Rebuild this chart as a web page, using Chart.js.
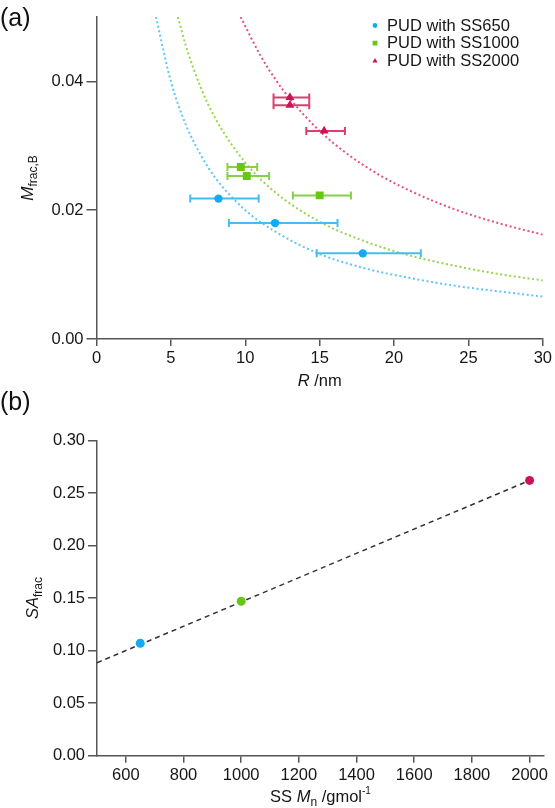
<!DOCTYPE html>
<html><head><meta charset="utf-8">
<script src="https://cdn.jsdelivr.net/npm/chart.js@4.4.1/dist/chart.umd.min.js"></script>
<style>
html,body{margin:0;padding:0;background:#fff;width:555px;height:808px;overflow:hidden}
#a{position:absolute;left:0;top:0;width:555px;height:400px}
#b{position:absolute;left:0;top:380px;width:555px;height:428px}
</style></head><body>
<div id="a"><canvas id="ca"></canvas></div>
<div id="b"><canvas id="cb"></canvas></div>
<script>
// ---------- data: panel (a) ----------
const seriesNames = ['PUD with SS650', 'PUD with SS1000', 'PUD with SS2000'];

const r650   = [8.2, 12.0, 17.9];
const m650   = [0.0218, 0.0180, 0.0133];
const r650Lo = [6.3, 8.9, 14.8];
const r650Hi = [10.9, 16.2, 21.8];

const r1000   = [9.7, 10.1, 15.0];
const m1000   = [0.0267, 0.0253, 0.0223];
const r1000Lo = [8.8, 8.8, 13.2];
const r1000Hi = [10.8, 11.6, 17.1];

const r2000   = [13.0, 13.0, 15.3];
const m2000   = [0.0375, 0.0363, 0.0323];
const r2000Lo = [11.9, 11.9, 14.1];
const r2000Hi = [14.3, 14.3, 16.7];

// fitted curves
const fit650R  = [4.0, 5, 6, 7, 8, 10, 12, 15, 18, 21, 24, 27, 30];
const fit650M  = [0.0500, 0.0400, 0.0333, 0.0286, 0.0250, 0.0200, 0.0167, 0.0132, 0.0110, 0.0095, 0.0083, 0.0074, 0.0066];
const fit1000R = [5.47, 6, 7, 8, 10, 12, 15, 18, 21, 24, 27, 30];
const fit1000M = [0.0500, 0.0456, 0.0391, 0.0342, 0.0274, 0.0228, 0.0182, 0.0152, 0.0130, 0.0114, 0.0101, 0.0091];
const fit2000R = [9.69, 11, 12, 13, 15, 17, 19, 21, 24, 27, 30];
const fit2000M = [0.0500, 0.0441, 0.0404, 0.0373, 0.0323, 0.0285, 0.0255, 0.0231, 0.0202, 0.0180, 0.0162];

const xTicksA = [0, 5, 10, 15, 20, 25, 30];
const yTicksA = [0.00, 0.02, 0.04];

// ---------- data: panel (b) ----------
const ssMn   = [650, 1000, 2000];
const saFrac = [0.107, 0.147, 0.262];
const lineMn = [500, 2000];
const lineSA = [0.0885, 0.262];
const xTicksB = [600, 800, 1000, 1200, 1400, 1600, 1800, 2000];
const yTicksB = [0.00, 0.05, 0.10, 0.15, 0.20, 0.25, 0.30];

// ---------- styles ----------
const FONT = '"Liberation Sans", Arial, Helvetica, sans-serif';
const colors    = ['#12aaf0', '#66c814', '#cf1257'];
const barColors = ['#45bcf2', '#86d04a', '#d9406f'];
const fitColors = ['#5ec6f3', '#94d64a', '#e3527f'];
const styles    = ['circle', 'rect', 'triangle'];
const radii     = [4.2, 5.6, 5.2];
const AXIS = '#555';
const TXT = '#161616';

function pts(xs, ys) { return xs.map((x, i) => ({x: x, y: ys[i]})); }

function errBars(R, M, lo, hi, color) {
  return R.map((r, i) => ({
    data: [{x: lo[i], y: M[i]}, {x: hi[i], y: M[i]}],
    showLine: true, borderColor: color, borderWidth: 2,
    pointStyle: 'line', pointRotation: 90, pointRadius: 4,
    pointBorderColor: color, pointBorderWidth: 2, order: 2
  }));
}

function drawRich(ctx, x, y, runs, opt) {
  opt = opt || {};
  ctx.save();
  ctx.translate(x, y);
  if (opt.rot) ctx.rotate(opt.rot);
  ctx.fillStyle = opt.color || TXT;
  ctx.textBaseline = 'alphabetic';
  ctx.textAlign = 'left';
  let w = 0;
  runs.forEach(r => { ctx.font = r.f; r.w = ctx.measureText(r.t).width; w += r.w; });
  let cx = opt.align === 'left' ? 0 : -w / 2;
  runs.forEach(r => { ctx.font = r.f; ctx.fillText(r.t, cx, r.dy || 0); cx += r.w; });
  ctx.restore();
}

function marker(ctx, style, x, y, r, color) {
  ctx.save();
  ctx.fillStyle = color;
  ctx.beginPath();
  if (style === 'circle') ctx.arc(x, y, r, 0, Math.PI * 2);
  else if (style === 'rect') ctx.rect(x - r, y - r, 2 * r, 2 * r);
  else { ctx.moveTo(x, y - r * 1.15); ctx.lineTo(x + r * 1.1, y + r * 0.75); ctx.lineTo(x - r * 1.1, y + r * 0.75); ctx.closePath(); }
  ctx.fill();
  ctx.restore();
}

const F = (s, st) => (st ? st + ' ' : '') + s + 'px ' + FONT;

function axisCommon(ticksArr, tickLen, fmt) {
  return {
    type: 'linear',
    afterBuildTicks: s => { s.ticks = ticksArr.map(v => ({value: v})); },
    ticks: { color: TXT, font: {family: FONT, size: 16.5}, padding: 3, maxRotation: 0, autoSkip: false,
             callback: fmt },
    grid: { display: true, drawOnChartArea: false, drawTicks: true, tickLength: tickLen, color: AXIS, lineWidth: 1.5 },
    border: { display: true, color: AXIS, width: 1.5 }
  };
}

// ---------- chart (a) ----------
const dsA = [];
const seriesA = [[r650, m650, r650Lo, r650Hi, fit650R, fit650M],
                 [r1000, m1000, r1000Lo, r1000Hi, fit1000R, fit1000M],
                 [r2000, m2000, r2000Lo, r2000Hi, fit2000R, fit2000M]];
seriesA.forEach((s, i) => {
  dsA.push({ label: seriesNames[i], data: pts(s[0], s[1]), pointStyle: styles[i], pointRadius: radii[i],
             backgroundColor: colors[i], borderColor: colors[i], pointBorderWidth: 0, order: 1 });
  errBars(s[0], s[1], s[2], s[3], barColors[i]).forEach(d => dsA.push(d));
  dsA.push({ data: pts(s[4], s[5]), showLine: true, pointRadius: 0, borderColor: fitColors[i],
             borderWidth: 2, borderDash: [2, 2.6], cubicInterpolationMode: 'monotone', order: 3 });
});

const xA = axisCommon(xTicksA, 7, v => String(v));
xA.min = 0; xA.max = 30;
xA.afterFit = s => { s.height = 61; };
const yA = axisCommon(yTicksA, 10, v => v.toFixed(2));
yA.min = 0; yA.max = 0.05;
yA.afterFit = s => { s.width = 96.5; };

const textsA = {
  id: 'textsA',
  afterDraw(chart) {
    const ctx = chart.ctx, ca = chart.chartArea;
    drawRich(ctx, 0, 26, [{t: '(a)', f: F(25, '')}], {align: 'left', color: '#111'});
    drawRich(ctx, 33, (ca.top + ca.bottom) / 2, [{t: 'M', f: F(17, 'italic')}, {t: 'frac,B', f: F(12), dy: 4}], {rot: -Math.PI / 2});
    drawRich(ctx, (ca.left + ca.right) / 2, 386, [{t: 'R', f: F(16.5, 'italic')}, {t: ' /nm', f: F(16.5)}]);
    seriesNames.forEach((n, i) => {
      const y = 25.5 + i * 17.6;
      marker(ctx, styles[i], 375, y, 2.4, colors[i]);
      ctx.save();
      ctx.font = F(16.5); ctx.fillStyle = TXT; ctx.textBaseline = 'middle'; ctx.textAlign = 'left';
      ctx.fillText(n, 387, y + 0.5);
      ctx.restore();
    });
  }
};

new Chart(document.getElementById('ca'), {
  type: 'scatter',
  data: { datasets: dsA },
  options: {
    responsive: true, maintainAspectRatio: false, animation: false, events: [],
    layout: { padding: { left: 0, right: 11, top: 17, bottom: 0 }, autoPadding: false },
    plugins: { legend: { display: false }, tooltip: { enabled: false } },
    scales: { x: xA, y: yA }
  },
  plugins: [textsA]
});

// ---------- chart (b) ----------
const xB = axisCommon(xTicksB, 7, v => String(v));
xB.min = 500; xB.max = 2050;
xB.afterFit = s => { s.height = 52.3; };
const yB = axisCommon(yTicksB, 9, v => v.toFixed(2));
yB.min = 0; yB.max = 0.30;
yB.afterFit = s => { s.width = 97; };

const textsB = {
  id: 'textsB',
  afterDraw(chart) {
    const ctx = chart.ctx, ca = chart.chartArea;
    drawRich(ctx, 0, 30, [{t: '(b)', f: F(25, '')}], {align: 'left', color: '#111'});
    drawRich(ctx, 38, (ca.top + ca.bottom) / 2, [{t: 'SA', f: F(16.5, 'italic')}, {t: 'frac', f: F(12), dy: 4}], {rot: -Math.PI / 2});
    drawRich(ctx, (ca.left + ca.right) / 2, 422, [{t: 'SS ', f: F(16.5)}, {t: 'M', f: F(16.5, 'italic')},
      {t: 'n', f: F(12), dy: 4}, {t: ' /gmol', f: F(16.5)}, {t: '-1', f: F(10), dy: -8}]);
  }
};

new Chart(document.getElementById('cb'), {
  type: 'scatter',
  data: { datasets: [
    { data: pts(ssMn, saFrac), pointRadius: 4.5, pointBorderWidth: 0,
      backgroundColor: colors, borderColor: colors, order: 1 },
    { data: pts(lineMn, lineSA), showLine: true, pointRadius: 0, borderColor: '#333',
      borderWidth: 1.5, borderDash: [5, 4], order: 2 }
  ]},
  options: {
    responsive: true, maintainAspectRatio: false, animation: false, events: [],
    layout: { padding: { left: 0, right: 11, top: 60.5, bottom: 0 }, autoPadding: false },
    plugins: { legend: { display: false }, tooltip: { enabled: false } },
    scales: { x: xB, y: yB }
  },
  plugins: [textsB]
});
</script>
</body></html>
